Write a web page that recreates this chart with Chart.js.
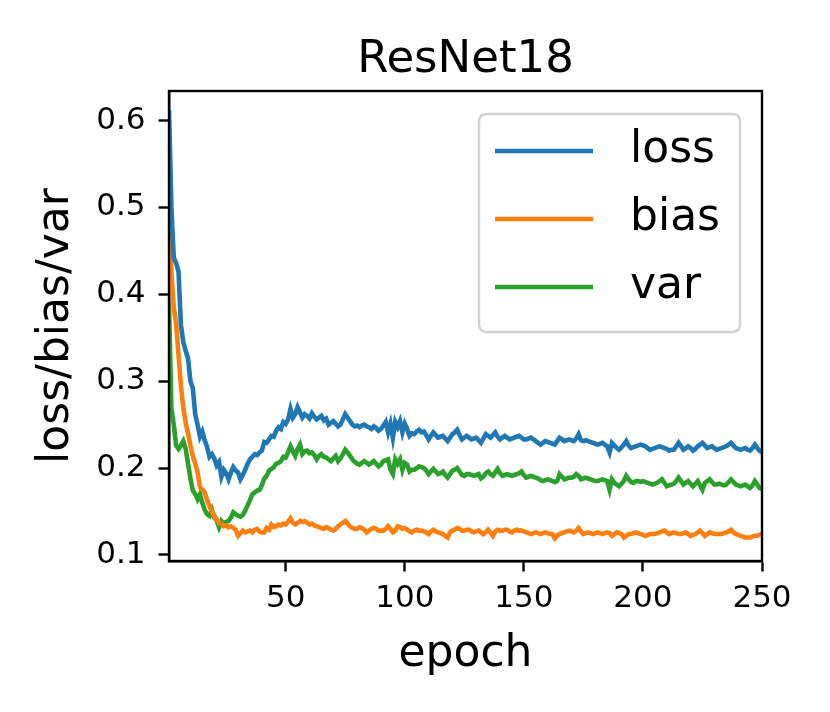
<!DOCTYPE html>
<html>
<head>
<meta charset="utf-8">
<script src="https://cdn.jsdelivr.net/npm/chart.js@4.4.1/dist/chart.umd.min.js"></script>
<style>
  html, body { margin: 0; padding: 0; background: #fff; }
  #wrap { width: 830px; height: 712px; }
</style>
</head>
<body>
<div id="wrap"><canvas id="c" width="830" height="712"></canvas></div>
<script>
const chartTitle = 'ResNet18';
const xLabel = 'epoch';
const yLabel = 'loss/bias/var';
const seriesNames = ['loss', 'bias', 'var'];
const xTicks = [50, 100, 150, 200, 250];
const yTicks = [0.1, 0.2, 0.3, 0.4, 0.5, 0.6];

const loss = [
  0.612, 0.500, 0.442, 0.436, 0.426, 0.365, 0.345, 0.335, 0.326, 0.300,
  0.292, 0.262, 0.250, 0.236, 0.242, 0.232, 0.224, 0.213, 0.216, 0.211,
  0.203, 0.207, 0.190, 0.198, 0.194, 0.187, 0.195, 0.201, 0.197, 0.195,
  0.187, 0.192, 0.198, 0.205, 0.210, 0.213, 0.216, 0.215, 0.218, 0.220,
  0.230, 0.229, 0.233, 0.237, 0.236, 0.243, 0.247, 0.245, 0.253, 0.251,
  0.256, 0.268, 0.258, 0.262, 0.270, 0.264, 0.258, 0.262, 0.260, 0.257,
  0.263, 0.259, 0.256, 0.258, 0.260, 0.255, 0.257, 0.250, 0.252, 0.254,
  0.251, 0.248, 0.250, 0.256, 0.262, 0.258, 0.254, 0.250, 0.248, 0.249,
  0.247, 0.249, 0.250, 0.248, 0.247, 0.245, 0.248, 0.246, 0.243, 0.245,
  0.249, 0.253, 0.241, 0.251, 0.235, 0.253, 0.247, 0.254, 0.241, 0.251,
  0.245, 0.237, 0.240, 0.239, 0.242, 0.244, 0.241, 0.242, 0.238, 0.233,
  0.237, 0.241, 0.238, 0.235, 0.236, 0.237, 0.234, 0.231, 0.235, 0.239,
  0.241, 0.244, 0.238, 0.233, 0.235, 0.237, 0.235, 0.233, 0.234, 0.235,
  0.232, 0.229, 0.234, 0.239, 0.237, 0.235, 0.238, 0.241, 0.236, 0.233,
  0.235, 0.237, 0.235, 0.233, 0.234, 0.235, 0.236, 0.237, 0.235, 0.233,
  0.233, 0.234, 0.235, 0.233, 0.231, 0.229, 0.227, 0.229, 0.231, 0.230,
  0.229, 0.228, 0.227, 0.231, 0.235, 0.233, 0.231, 0.232, 0.233, 0.232,
  0.231, 0.234, 0.239, 0.232, 0.231, 0.232, 0.231, 0.230, 0.229, 0.228,
  0.227, 0.228, 0.229, 0.227, 0.225, 0.218, 0.229, 0.226, 0.223, 0.221,
  0.224, 0.227, 0.231, 0.226, 0.223, 0.224, 0.225, 0.226, 0.227, 0.226,
  0.225, 0.223, 0.221, 0.222, 0.223, 0.224, 0.225, 0.224, 0.223, 0.222,
  0.220, 0.221, 0.221, 0.225, 0.229, 0.225, 0.221, 0.223, 0.225, 0.223,
  0.220, 0.222, 0.225, 0.227, 0.229, 0.226, 0.223, 0.224, 0.225, 0.223,
  0.221, 0.222, 0.223, 0.224, 0.225, 0.227, 0.229, 0.226, 0.223, 0.222,
  0.221, 0.222, 0.223, 0.221, 0.220, 0.223, 0.227, 0.223, 0.220, 0.218
];

const bias = [
  0.543, 0.425, 0.385, 0.366, 0.330, 0.295, 0.270, 0.252, 0.240, 0.226,
  0.214, 0.205, 0.195, 0.178, 0.175, 0.172, 0.163, 0.156, 0.150, 0.145,
  0.141, 0.137, 0.136, 0.133, 0.134, 0.132, 0.133, 0.131, 0.129, 0.122,
  0.125, 0.128, 0.126, 0.127, 0.128, 0.126, 0.129, 0.130, 0.127, 0.126,
  0.126, 0.131, 0.129, 0.135, 0.132, 0.133, 0.135, 0.134, 0.136, 0.135,
  0.138, 0.142, 0.137, 0.135, 0.137, 0.139, 0.138, 0.139, 0.137, 0.135,
  0.136, 0.134, 0.133, 0.132, 0.131, 0.130, 0.132, 0.131, 0.129, 0.128,
  0.130, 0.133, 0.135, 0.137, 0.139, 0.136, 0.133, 0.131, 0.130, 0.130,
  0.132, 0.131, 0.129, 0.126, 0.128, 0.130, 0.131, 0.130, 0.128, 0.128,
  0.128, 0.130, 0.133, 0.130, 0.126, 0.128, 0.133, 0.132, 0.130, 0.131,
  0.129, 0.127, 0.126, 0.128, 0.129, 0.128, 0.128, 0.127, 0.126, 0.124,
  0.127, 0.129, 0.127, 0.126, 0.125, 0.124, 0.122, 0.120, 0.126, 0.128,
  0.129, 0.131, 0.130, 0.128, 0.128, 0.129, 0.129, 0.127, 0.126, 0.127,
  0.128, 0.126, 0.124, 0.126, 0.129, 0.126, 0.122, 0.127, 0.129, 0.128,
  0.128, 0.129, 0.129, 0.127, 0.126, 0.128, 0.129, 0.128, 0.128, 0.127,
  0.126, 0.125, 0.124, 0.125, 0.126, 0.125, 0.124, 0.125, 0.126, 0.125,
  0.124, 0.124, 0.119, 0.122, 0.124, 0.125, 0.126, 0.127, 0.128, 0.127,
  0.126, 0.128, 0.131, 0.127, 0.124, 0.125, 0.126, 0.125, 0.124, 0.125,
  0.126, 0.125, 0.124, 0.125, 0.126, 0.125, 0.122, 0.124, 0.126, 0.125,
  0.124, 0.120, 0.122, 0.124, 0.124, 0.125, 0.126, 0.125, 0.124, 0.123,
  0.122, 0.123, 0.124, 0.124, 0.124, 0.125, 0.126, 0.127, 0.128, 0.126,
  0.124, 0.125, 0.126, 0.125, 0.124, 0.124, 0.125, 0.126, 0.124, 0.122,
  0.123, 0.124, 0.126, 0.128, 0.125, 0.122, 0.124, 0.126, 0.125, 0.124,
  0.124, 0.124, 0.124, 0.125, 0.126, 0.127, 0.129, 0.126, 0.124, 0.123,
  0.122, 0.121, 0.120, 0.120, 0.120, 0.121, 0.122, 0.122, 0.123, 0.124
];

const variance = [
  0.390, 0.268, 0.250, 0.226, 0.222, 0.226, 0.231, 0.222, 0.205, 0.188,
  0.174, 0.170, 0.164, 0.170, 0.160, 0.152, 0.147, 0.145, 0.152, 0.143,
  0.140, 0.132, 0.139, 0.136, 0.138, 0.139, 0.143, 0.149, 0.147, 0.145,
  0.144, 0.146, 0.151, 0.157, 0.163, 0.170, 0.172, 0.174, 0.175, 0.180,
  0.188, 0.191, 0.197, 0.199, 0.201, 0.205, 0.206, 0.208, 0.213, 0.212,
  0.218, 0.225, 0.219, 0.214, 0.222, 0.227, 0.216, 0.219, 0.220, 0.217,
  0.218, 0.215, 0.210, 0.214, 0.216, 0.213, 0.212, 0.210, 0.208, 0.211,
  0.214, 0.208, 0.211, 0.216, 0.221, 0.218, 0.214, 0.210, 0.207, 0.205,
  0.204, 0.206, 0.208, 0.206, 0.204, 0.206, 0.208, 0.205, 0.202, 0.204,
  0.208, 0.209, 0.210, 0.198, 0.193, 0.210, 0.205, 0.210, 0.198, 0.206,
  0.204, 0.196, 0.198, 0.198, 0.200, 0.202, 0.201, 0.200, 0.197, 0.193,
  0.196, 0.199, 0.196, 0.193, 0.194, 0.196, 0.192, 0.189, 0.193, 0.197,
  0.198, 0.200, 0.196, 0.192, 0.191, 0.193, 0.193, 0.192, 0.191, 0.192,
  0.193, 0.188, 0.190, 0.194, 0.196, 0.193, 0.191, 0.195, 0.199, 0.194,
  0.191, 0.192, 0.193, 0.192, 0.191, 0.192, 0.193, 0.194, 0.196, 0.192,
  0.189, 0.190, 0.191, 0.190, 0.189, 0.188, 0.186, 0.185, 0.186, 0.187,
  0.186, 0.185, 0.184, 0.185, 0.193, 0.190, 0.187, 0.188, 0.189, 0.189,
  0.190, 0.193, 0.191, 0.187, 0.188, 0.189, 0.188, 0.187, 0.186, 0.185,
  0.185, 0.186, 0.187, 0.186, 0.185, 0.175, 0.187, 0.183, 0.181, 0.179,
  0.182, 0.185, 0.191, 0.187, 0.184, 0.183, 0.185, 0.185, 0.184, 0.185,
  0.184, 0.183, 0.182, 0.181, 0.182, 0.183, 0.185, 0.187, 0.183, 0.179,
  0.180, 0.181, 0.182, 0.185, 0.189, 0.185, 0.181, 0.183, 0.185, 0.182,
  0.179, 0.182, 0.185, 0.180, 0.175, 0.183, 0.185, 0.187, 0.184, 0.181,
  0.181, 0.182, 0.181, 0.180, 0.181, 0.184, 0.187, 0.184, 0.181, 0.180,
  0.179, 0.180, 0.181, 0.179, 0.177, 0.180, 0.185, 0.181, 0.177, 0.176
];

const epochs = loss.map((_, i) => i + 1);
const colors = ['#1f77b4', '#ff7f0e', '#2ca02c'];
const FONT = '"DejaVu Sans", sans-serif';

function toPoints(arr) { return epochs.map((e, i) => ({ x: e, y: arr[i] })); }

const framePlugin = {
  id: 'frameTitleLegend',
  afterDatasetsDraw(chart) {
    const { ctx, chartArea: a } = chart;
    ctx.save();
    ctx.strokeStyle = '#000';
    ctx.lineWidth = 2.4;
    ctx.strokeRect(a.left, a.top, a.right - a.left, a.bottom - a.top);
    ctx.fillStyle = '#000';
    ctx.font = '45px ' + FONT;
    ctx.textAlign = 'center';
    ctx.textBaseline = 'alphabetic';
    ctx.fillText(chartTitle, (a.left + a.right) / 2, 72);
    const bx = 479, by = 114, bw = 261, bh = 218, r = 8;
    ctx.beginPath();
    ctx.moveTo(bx + r, by);
    ctx.lineTo(bx + bw - r, by);
    ctx.quadraticCurveTo(bx + bw, by, bx + bw, by + r);
    ctx.lineTo(bx + bw, by + bh - r);
    ctx.quadraticCurveTo(bx + bw, by + bh, bx + bw - r, by + bh);
    ctx.lineTo(bx + r, by + bh);
    ctx.quadraticCurveTo(bx, by + bh, bx, by + bh - r);
    ctx.lineTo(bx, by + r);
    ctx.quadraticCurveTo(bx, by, bx + r, by);
    ctx.closePath();
    ctx.fillStyle = 'rgba(255,255,255,0.8)';
    ctx.fill();
    ctx.strokeStyle = '#d3d3d3';
    ctx.lineWidth = 2.4;
    ctx.stroke();
    chart.data.datasets.forEach((ds, i) => {
      const ly = 151 + i * 68;
      ctx.strokeStyle = ds.borderColor;
      ctx.lineWidth = 4.5;
      ctx.beginPath();
      ctx.moveTo(495, ly);
      ctx.lineTo(593, ly);
      ctx.stroke();
      ctx.fillStyle = '#000';
      ctx.font = '44px ' + FONT;
      ctx.textAlign = 'left';
      ctx.textBaseline = 'middle';
      ctx.fillText(ds.label, 630, ly);
    });
    ctx.restore();
  }
};

const datasets = [loss, bias, variance].map((arr, i) => ({
  label: seriesNames[i],
  data: toPoints(arr),
  borderColor: colors[i],
  backgroundColor: colors[i],
  borderWidth: 4.6,
  pointRadius: 0,
  tension: 0,
  fill: false
}));

new Chart(document.getElementById('c'), {
  type: 'line',
  data: { datasets },
  plugins: [framePlugin],
  options: {
    responsive: false,
    animation: false,
    devicePixelRatio: 1,
    layout: { padding: { top: 91, right: 68, left: 0, bottom: 0 } },
    plugins: { legend: { display: false }, title: { display: false }, tooltip: { enabled: false } },
    scales: {
      x: {
        type: 'linear',
        min: 1, max: 250,
        afterFit(s) { s.height = 151; },
        afterBuildTicks(s) { s.ticks = xTicks.map(v => ({ value: v })); },
        grid: { drawOnChartArea: false, drawTicks: true, tickLength: 10.5, tickWidth: 2.4, tickColor: '#000' },
        border: { display: true, color: '#000', width: 2.4 },
        ticks: {
          font: { family: FONT, size: 31 }, color: '#000', padding: 9,
          maxRotation: 0, autoSkip: false,
          callback: v => String(v)
        },
        title: { display: true, text: xLabel, color: '#000', font: { family: FONT, size: 44 }, padding: { top: 0, bottom: 31 } }
      },
      y: {
        type: 'linear',
        min: 0.093, max: 0.634,
        afterFit(s) { s.width = 169; },
        afterBuildTicks(s) { s.ticks = yTicks.map(v => ({ value: v })); },
        grid: { drawOnChartArea: false, drawTicks: true, tickLength: 10.5, tickWidth: 2.4, tickColor: '#000' },
        border: { display: true, color: '#000', width: 2.4 },
        ticks: {
          font: { family: FONT, size: 31 }, color: '#000', padding: 13,
          autoSkip: false,
          callback: v => v.toFixed(1)
        },
        title: { display: true, text: yLabel, color: '#000', font: { family: FONT, size: 44 }, padding: { top: 30, bottom: 0 } }
      }
    }
  }
});
</script>
</body>
</html>
